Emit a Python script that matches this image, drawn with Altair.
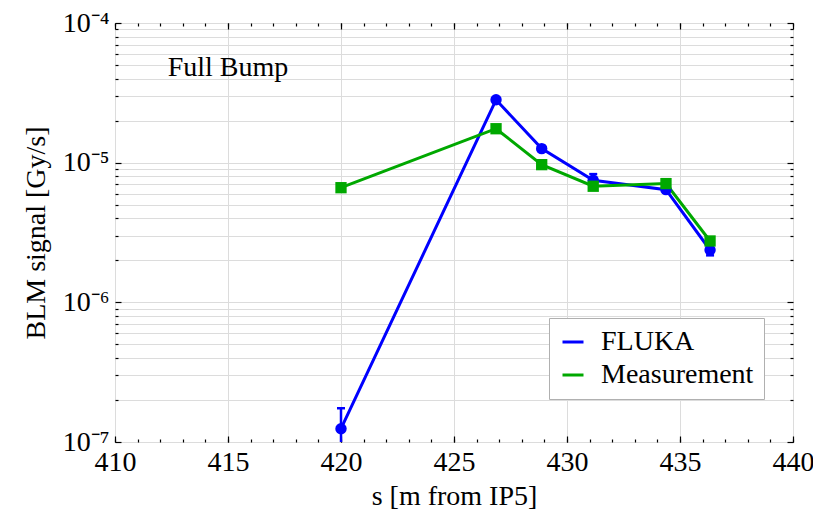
import altair as alt
import pandas as pd

# ---- data ----
s_pos = [420.0, 426.86, 428.88, 431.16, 434.38, 436.33]
fluka = [1.245e-7, 2.82e-5, 1.26e-5, 7.48e-6, 6.41e-6, 2.37e-6]
fluka_err = [5.0e-8, 1.2e-6, 5.0e-7, 8.0e-7, 3.0e-7, 2.0e-7]
measurement = [6.62e-6, 1.75e-5, 9.68e-6, 6.78e-6, 7.08e-6, 2.75e-6]
series_names = ["FLUKA", "Measurement"]
series_colors = ["#0000ff", "#00a800"]

x_major = [410, 415, 420, 425, 430, 435, 440]
x_minor = list(range(410, 441))
y_decades = [1e-7, 1e-6, 1e-5, 1e-4]
y_decade_labels = ["10⁻⁷", "10⁻⁶", "10⁻⁵", "10⁻⁴"]
y_minor = [m * 10.0 ** e for e in (-7, -6, -5) for m in range(2, 10)]
y_grid = sorted(y_decades + y_minor)

annotation = ["Full Bump"]
annotation_x = [415]
annotation_y = [4.8e-5]

FONT = "Liberation Serif"
FS = 28

fluka_df = pd.DataFrame({
    "s": s_pos, "v": fluka,
    "lo": [v - e for v, e in zip(fluka, fluka_err)],
    "hi": [v + e for v, e in zip(fluka, fluka_err)],
    "series": series_names[0],
})
meas_df = pd.DataFrame({"s": s_pos, "v": measurement, "series": series_names[1]})
lines_df = pd.concat([fluka_df[["s", "v", "series"]], meas_df], ignore_index=True)
lines_df["order"] = lines_df["series"].map({series_names[0]: 0, series_names[1]: 1})
text_df = pd.DataFrame({"s": annotation_x, "v": annotation_y, "t": annotation})

xs = alt.Scale(domain=[410, 440], nice=False, zero=False)
ys = alt.Scale(type="log", domain=[1e-7, 1e-4], nice=False)

label_expr = " : ".join(
    f"datum.value < {d * 3:.1e} ? '{l}'" for d, l in zip(y_decades[:-1], y_decade_labels[:-1])
) + f" : '{y_decade_labels[-1]}'"


def tick_axis(orient, values, size):
    return alt.Axis(orient=orient, values=values, labels=False, grid=False, domain=False,
                    ticks=True, tickSize={"expr": str(-size)}, tickColor="black",
                    tickWidth=1.2, title=None)


x_main = alt.Axis(orient="bottom", values=x_major, grid=True, gridColor="#dcdcdc",
                  gridWidth=1, ticks=False, domain=False, labelFont=FONT,
                  labelFontSize=FS, labelColor="black", labelPadding=6,
                  labelFlush=False, labelOverlap=False, format="d",
                  title="s [m from IP5]", titleFont=FONT, titleFontSize=FS,
                  titleFontWeight="normal", titleColor="black", titlePadding=6)
y_main = alt.Axis(orient="left", values=y_grid, grid=True, gridColor="#dcdcdc",
                  gridWidth=1, ticks=False, domain=False, labelFont=FONT,
                  labelFontSize=FS, labelColor="black", labelPadding=6,
                  labelFlush=False, labelOverlap=False, labelExpr=
                  f"indexof({[float(d) for d in y_decades]}, datum.value) >= 0 ? ({label_expr}) : ''",
                  labelBaseline="middle",
                  title="BLM signal [Gy/s]", titleFont=FONT, titleFontSize=FS,
                  titleFontWeight="normal", titleColor="black", titlePadding=12)

lines = alt.Chart(lines_df).mark_line(strokeWidth=3).encode(
    x=alt.X("s:Q", scale=xs, axis=x_main),
    y=alt.Y("v:Q", scale=ys, axis=y_main),
    color=alt.Color("series:N",
                    scale=alt.Scale(domain=series_names, range=series_colors),
                    legend=alt.Legend(orient="none", legendX=434, legendY=295,
                                      title=None, symbolType="stroke",
                                      symbolStrokeWidth=3, symbolSize=441,
                                      labelFont=FONT, labelFontSize=FS,
                                      labelColor="black", labelOffset=14,
                                      strokeColor="#b0b0b0", fillColor="white",
                                      padding=10, rowPadding=5)),
    order="order:Q",
)

err = alt.Chart(fluka_df).mark_rule(strokeWidth=2.5, color=series_colors[0], clip=True).encode(
    x=alt.X("s:Q", scale=xs, axis=tick_axis("bottom", x_major, 6)),
    y=alt.Y("lo:Q", scale=ys, axis=tick_axis("left", y_decades, 6)),
    y2="hi:Q",
)
cap_hi = alt.Chart(fluka_df).mark_tick(orient="horizontal", size=8, thickness=2.5,
                                       color=series_colors[0], opacity=1, clip=True).encode(
    x=alt.X("s:Q", scale=xs, axis=tick_axis("bottom", x_minor, 3)),
    y=alt.Y("hi:Q", scale=ys, axis=tick_axis("left", y_minor, 3)),
)
cap_lo = alt.Chart(fluka_df).mark_tick(orient="horizontal", size=8, thickness=2.5,
                                       color=series_colors[0], opacity=1, clip=True).encode(
    x=alt.X("s:Q", scale=xs, axis=tick_axis("top", x_major, 6)),
    y=alt.Y("lo:Q", scale=ys, axis=tick_axis("right", y_decades, 6)),
)
blue_pts = alt.Chart(fluka_df).mark_circle(size=130, opacity=1, color=series_colors[0]).encode(
    x=alt.X("s:Q", scale=xs, axis=tick_axis("top", x_minor, 3)),
    y=alt.Y("v:Q", scale=ys, axis=tick_axis("right", y_minor, 3)),
)
green_pts = alt.Chart(meas_df).mark_square(size=128, opacity=1, color=series_colors[1]).encode(
    x=alt.X("s:Q", scale=xs, axis=None),
    y=alt.Y("v:Q", scale=ys, axis=None),
)
label = alt.Chart(text_df).mark_text(font=FONT, fontSize=FS, align="center",
                                     baseline="middle", color="black").encode(
    x=alt.X("s:Q", scale=xs, axis=None),
    y=alt.Y("v:Q", scale=ys, axis=None),
    text="t:N",
)

chart = alt.layer(lines, err, cap_hi, cap_lo, blue_pts, green_pts, label).resolve_axis(
    x="independent", y="independent"
).properties(
    width=678, height=419,
    autosize=alt.AutoSizeParams(type="none"),
    padding={"left": 107, "top": 15, "right": 20, "bottom": 74},
).configure_view(stroke="black", strokeWidth=1.5).configure(font=FONT)

chart.save("out.html", embed_options={"renderer": "svg", "actions": False})
